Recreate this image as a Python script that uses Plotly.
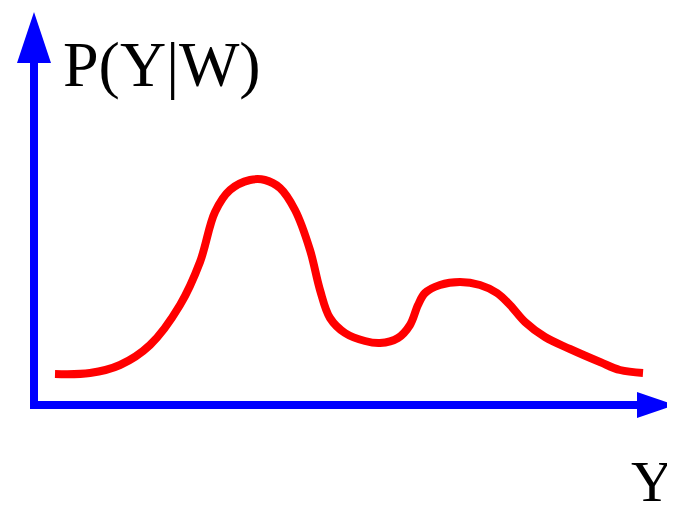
import plotly.graph_objects as go

# Curve (x position, height) in pixel-like units
curve_x = [55, 90, 120, 150, 180, 200, 215, 230, 250, 265, 280, 295, 310, 320, 330, 345,
           365, 380, 398, 410, 418, 425, 440, 460, 480, 497, 510, 525, 545, 570, 600, 620, 643]
curve_y = [374, 373, 365, 345, 305, 262, 212, 190, 180, 180, 188, 210, 250, 290, 318, 333,
           341, 343, 338, 325, 305, 293, 285, 282, 285, 293, 305, 322, 337, 349, 362, 370, 373]

y_label = "P(Y|W)"
x_label = "Y"

W, H = 675, 507
OFF = 8  # page body margin
BLUE = "#0000ff"

fig = go.Figure()
fig.add_trace(go.Scatter(x=curve_x, y=curve_y, mode="lines",
                         line=dict(color="#ff0000", width=8, shape="spline", smoothing=1.0),
                         hoverinfo="skip", showlegend=False))

shapes = [
    dict(type="line", x0=34, y0=405, x1=34, y1=60, line=dict(color=BLUE, width=8)),
    dict(type="line", x0=30, y0=405, x1=640, y1=405, line=dict(color=BLUE, width=8)),
    dict(type="path", path="M 17 63 L 34 12 L 51 63 Z", fillcolor=BLUE, line=dict(width=0)),
    dict(type="path", path="M 637 392 L 675 405 L 637 418 Z", fillcolor=BLUE, line=dict(width=0)),
]
for s in shapes:
    s.update(xref="x", yref="y", layer="below")

fig.update_layout(
    width=W - OFF, height=H - OFF,
    margin=dict(l=0, r=0, t=0, b=0),
    paper_bgcolor="white", plot_bgcolor="white",
    xaxis=dict(range=[OFF, W], visible=False, fixedrange=True),
    yaxis=dict(range=[H, OFF], visible=False, fixedrange=True),
    shapes=shapes,
    annotations=[
        dict(x=61, y=102, xref="x", yref="y", text=y_label, showarrow=False,
             xanchor="left", yanchor="bottom",
             font=dict(family="Liberation Serif", size=64, color="black")),
        dict(x=675, y=500, xref="x", yref="y", text=x_label, showarrow=False,
             xanchor="right", yanchor="bottom", yshift=-16,
             font=dict(family="Liberation Serif", size=58, color="black")),
    ],
)

fig.write_html("out.html")
